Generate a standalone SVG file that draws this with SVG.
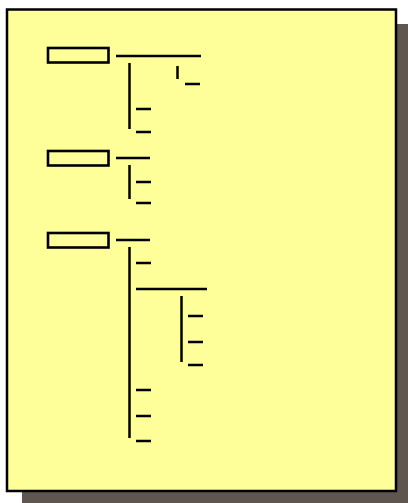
<svg xmlns="http://www.w3.org/2000/svg" width="408" height="503" viewBox="0 0 408 503">
<style>
.page{fill:#FFFF99;stroke:#000;stroke-width:2.5}
.shadow{fill:#5F574F}
.box{fill:#FFFF99;stroke:#000;stroke-width:2.6}
.ln{stroke:#000;stroke-width:2.5;fill:none}
</style>
<rect class="shadow" x="22" y="24" width="386" height="479"/>
<rect class="page" x="7" y="9.5" width="389" height="481.5"/>
<g id="node1"><rect class="box" x="48" y="48" width="60.5" height="14.5"/></g>
<g id="node2"><rect class="box" x="48" y="151" width="60.5" height="14.5"/></g>
<g id="node3"><rect class="box" x="48" y="233" width="60.5" height="14.5"/></g>
<g id="connectors">
<path class="ln" d="M116 56H201M129.5 63V129M177.5 66V79M185 84H200M136 109H151M136 132H151"/>
<path class="ln" d="M116 158H150M129.5 165V199M136 182H151M136 203H151"/>
<path class="ln" d="M116 240H150M129.5 247V438M136 263H151M136 289H207M181.5 296V362M188 316H203M188 342H203M188 365H203M136 390H151M136 416H151M136 441H151"/>
</g>
</svg>
